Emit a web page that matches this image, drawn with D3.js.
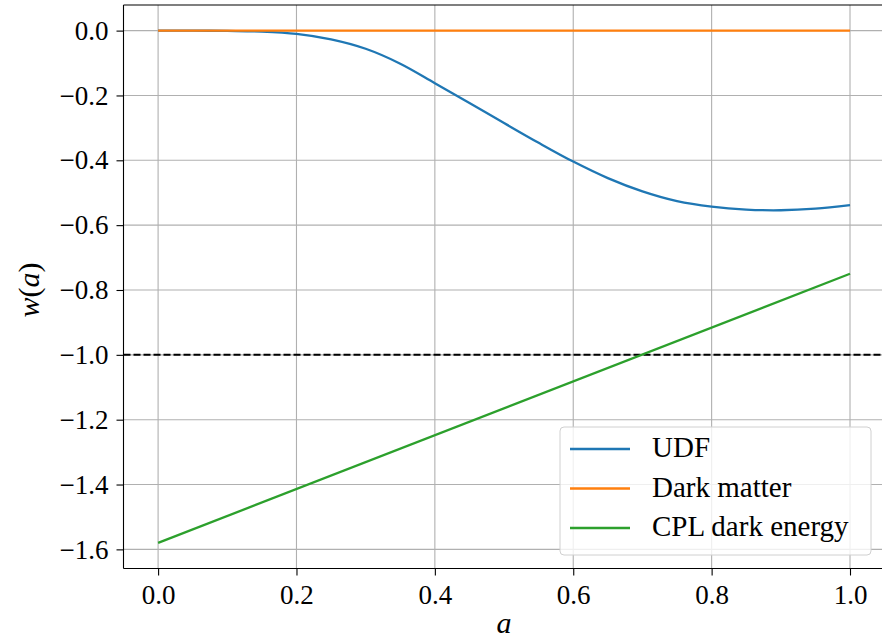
<!DOCTYPE html>
<html>
<head>
<meta charset="utf-8">
<script src="https://cdn.jsdelivr.net/npm/d3@7"></script>
<style>
  html, body { margin: 0; padding: 0; background: #fff; }
  svg { display: block; }
</style>
</head>
<body>
<svg id="chart" width="882" height="640" font-family="Liberation Serif"></svg>
<script>
// Scale factor a and equation-of-state values w(a)
const aValues = [0.00, 0.05, 0.10, 0.15, 0.20, 0.25, 0.30, 0.35, 0.40, 0.45, 0.50,
                 0.55, 0.60, 0.65, 0.70, 0.75, 0.80, 0.85, 0.90, 0.95, 1.00];
const udfValues = [0.000, 0.000, -0.001, -0.003, -0.010, -0.027, -0.056, -0.102, -0.162, -0.223, -0.285,
                   -0.346, -0.404, -0.455, -0.496, -0.526, -0.543, -0.552, -0.554, -0.549, -0.538];
const darkMatterValues = aValues.map(() => 0);
// CPL parametrisation w(a) = w0 + wa (1 - a)
const cplA = [0, 1];
const cplValues = [-1.58, -0.75];
const referenceW = -1.0;

const xTicks = [0.0, 0.2, 0.4, 0.6, 0.8, 1.0];
const yTicks = [0.0, -0.2, -0.4, -0.6, -0.8, -1.0, -1.2, -1.4, -1.6];

const seriesNames = ["UDF", "Dark matter", "CPL dark energy"];
const seriesColors = ["#1f77b4", "#ff7f0e", "#2ca02c"];

const FONT = "Liberation Serif";
const svg = d3.select("#chart");
const margin = { left: 123.5, top: 5, right: 884.6, bottom: 568.5 };

const x = d3.scaleLinear().domain([-0.05, 1.05]).range([margin.left, margin.right]);
const y = d3.scaleLinear().domain([-1.659, 0.079]).range([margin.bottom, margin.top]);

// grid
const grid = svg.append("g").attr("stroke", "#b0b0b0").attr("stroke-width", 1.1);
xTicks.forEach(t => grid.append("line")
  .attr("x1", x(t)).attr("x2", x(t)).attr("y1", margin.top).attr("y2", margin.bottom));
yTicks.forEach(t => grid.append("line")
  .attr("x1", margin.left).attr("x2", margin.right).attr("y1", y(t)).attr("y2", y(t)));

const fmt = v => (v < 0 ? "\u2212" : "") + Math.abs(v).toFixed(1);

// axes
const xAxis = d3.axisBottom(x).tickValues(xTicks).tickSize(7).tickPadding(9).tickFormat(fmt);
const yAxis = d3.axisLeft(y).tickValues(yTicks).tickSize(7).tickPadding(8).tickFormat(fmt);

const gx = svg.append("g").attr("transform", `translate(0,${margin.bottom})`).call(xAxis);
const gy = svg.append("g").attr("transform", `translate(${margin.left},0)`).call(yAxis);
[gx, gy].forEach(g => {
  g.attr("font-family", FONT).attr("font-size", 27);
  g.select(".domain").remove();
  g.selectAll(".tick line").attr("stroke", "#000").attr("stroke-width", 1.1);
  g.selectAll(".tick text").attr("font-family", FONT).attr("font-size", 27).attr("fill", "#000");
});

const line = d3.line().x(d => x(d[0])).y(d => y(d[1]));

// reference line w = -1
svg.append("line")
  .attr("x1", margin.left).attr("x2", margin.right)
  .attr("y1", y(referenceW)).attr("y2", y(referenceW))
  .attr("stroke", "#000").attr("stroke-width", 2).attr("stroke-dasharray", "7,3");

// data series
svg.append("path")
  .datum(aValues.map((a, i) => [a, udfValues[i]]))
  .attr("d", line.curve(d3.curveCatmullRom))
  .attr("fill", "none").attr("stroke", seriesColors[0]).attr("stroke-width", 2.3);
svg.append("path")
  .datum(aValues.map((a, i) => [a, darkMatterValues[i]]))
  .attr("d", line.curve(d3.curveLinear))
  .attr("fill", "none").attr("stroke", seriesColors[1]).attr("stroke-width", 2.3);
svg.append("path")
  .datum(cplA.map((a, i) => [a, cplValues[i]]))
  .attr("d", line.curve(d3.curveLinear))
  .attr("fill", "none").attr("stroke", seriesColors[2]).attr("stroke-width", 2.3);

// spines (right spine lies outside the visible area)
const sp = svg.append("g").attr("stroke", "#000").attr("stroke-width", 1.1).attr("fill", "none");
sp.append("line").attr("x1", margin.left).attr("x2", margin.left).attr("y1", margin.top).attr("y2", margin.bottom);
sp.append("line").attr("x1", margin.left).attr("x2", margin.right).attr("y1", margin.bottom).attr("y2", margin.bottom);
sp.append("line").attr("x1", margin.left).attr("x2", margin.right).attr("y1", margin.top).attr("y2", margin.top);

// axis labels
svg.append("text").attr("x", x(0.5)).attr("y", 633).attr("text-anchor", "middle")
  .attr("font-family", FONT).attr("font-style", "italic").attr("font-size", 30).text("a");
const yl = svg.append("text").attr("transform", `translate(39,${y(-0.8)}) rotate(-90)`)
  .attr("text-anchor", "middle").attr("font-family", FONT).attr("font-size", 30);
yl.append("tspan").attr("font-style", "italic").text("w");
yl.append("tspan").text("(");
yl.append("tspan").attr("font-style", "italic").text("a");
yl.append("tspan").text(")");

// legend
const lg = svg.append("g");
lg.append("rect").attr("x", 560).attr("y", 427).attr("width", 311).attr("height", 128)
  .attr("rx", 4).attr("fill", "rgba(255,255,255,0.8)").attr("stroke", "#d0d0d0").attr("stroke-width", 1);
seriesNames.forEach((name, i) => {
  const yy = 449 + i * 39.5;
  lg.append("line").attr("x1", 570).attr("x2", 630).attr("y1", yy).attr("y2", yy)
    .attr("stroke", seriesColors[i]).attr("stroke-width", 2.3);
  lg.append("text").attr("x", 652).attr("y", yy + 8).attr("font-family", FONT)
    .attr("font-size", 29).attr("fill", "#000").text(name);
});
</script>
</body>
</html>
